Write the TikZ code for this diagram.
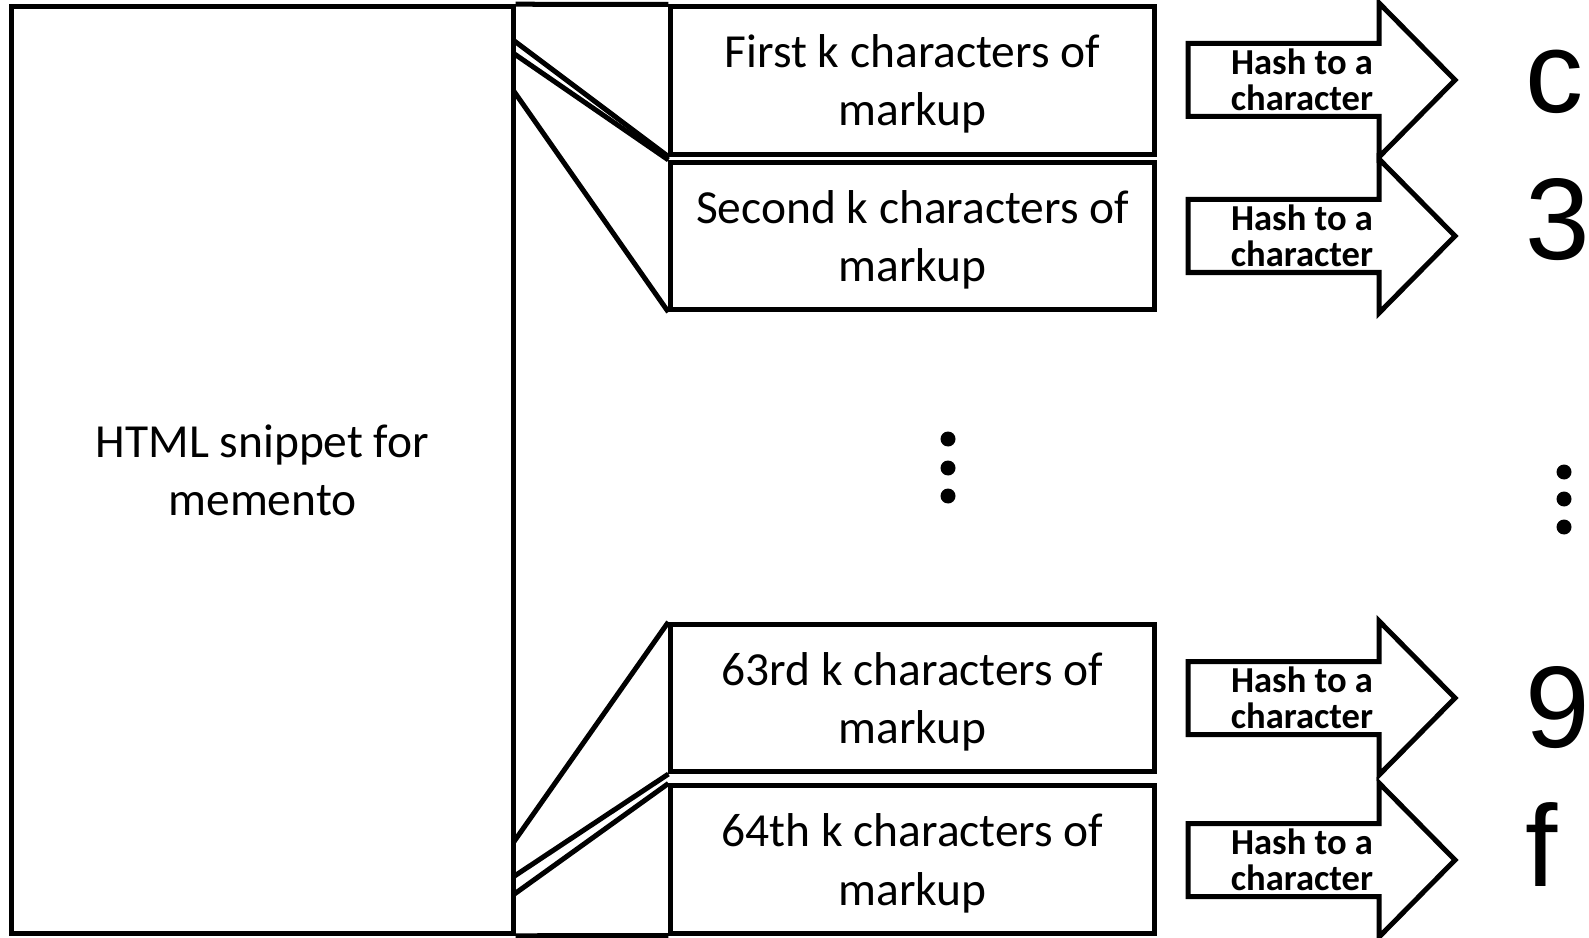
\documentclass[tikz,border=0pt]{standalone}
\usepackage{fontspec}
\setmainfont{Carlito}
\newfontfamily\arialfont{Liberation Sans}
\usetikzlibrary{positioning}

\tikzset{
  thickline/.style = {line width = 0.05cm},
  chunkbox/.style = {draw, thickline, minimum width = 4.83cm, minimum height = 1.47cm,
                     inner sep = 0pt, align = center, text depth = 0pt,
                     font = \fontsize{13.5pt}{16.5pt}\selectfont},
  hashlabel/.style = {align = center, inner sep = 0pt,
                      font = \bfseries\fontsize{10.4pt}{10.3pt}\selectfont},
  hexchar/.style = {anchor = base west, inner sep = 0pt,
                    font = \arialfont\fontsize{33pt}{33pt}\selectfont}
}

\begin{document}
\begin{tikzpicture}[x = 0.01cm, y = -0.01cm]
    \useasboundingbox (0,0) rectangle (1589,937);

    % the whole snippet
    \node[draw, thickline, minimum width = 5.01cm, minimum height = 9.26cm,
          inner sep = 0pt, align = center,
          font = \fontsize{13.5pt}{16.5pt}\selectfont] (snippet) at (262.5,470)
          {HTML snippet for\\memento};

    % chunks of markup
    \node[chunkbox] (first)  at (912.5,80.5)  {First k characters of\\markup};
    \node[chunkbox] (second) at (912.5,236)   {Second k characters of\\markup};
    \node[chunkbox] (third)  at (912.5,698)   {63rd k characters of\\markup};
    \node[chunkbox] (fourth) at (912.5,859.5) {64th k characters of\\markup};

    % where the slices leave the snippet
    \coordinate (s1) at (513,40);
    \coordinate (s2) at (513,53);
    \coordinate (s3) at (513,90);
    \coordinate (s4) at (513,843);
    \coordinate (s5) at (513,877);
    \coordinate (s6) at (513,895);

    \draw[thickline] (snippet.north east) -- (first.north west);
    \draw[thickline] (first.south west) -- (s1);
    \draw[thickline] (second.north west) -- (s2);
    \draw[thickline] (second.south west) -- (s3);
    \draw[thickline] (third.north west) -- (s4);
    \draw[thickline] (third.south west) -- (s5);
    \draw[thickline] (fourth.north west) -- (s6);
    \draw[thickline] (fourth.south west) -- (snippet.south east);

    % block arrows
    \foreach \yc in {80,236,698,860}{
        \draw[thickline, line join = miter] (1188,\yc-36.5) -- (1379,\yc-36.5) -- (1379,\yc-77)
            -- (1455,\yc) -- (1379,\yc+77) -- (1379,\yc+36.5) -- (1188,\yc+36.5) -- cycle;
        \node[hashlabel] at (1302,\yc) {Hash to a\\character};
    }

    % resulting characters
    \node[hexchar] (hc) at (1525,113) {c};
    \node[hexchar] (h3) at (1525,260) {3};
    \node[hexchar] (h9) at (1525,747) {9};
    \node[hexchar] (hf) at (1525,886) {f};

    % vertical dots
    \foreach \yy in {439,468,496} \fill (948,\yy) circle (7.5);
    \foreach \yy in {472,499,527} \fill (1564,\yy) circle (7.5);
\end{tikzpicture}
\end{document}
